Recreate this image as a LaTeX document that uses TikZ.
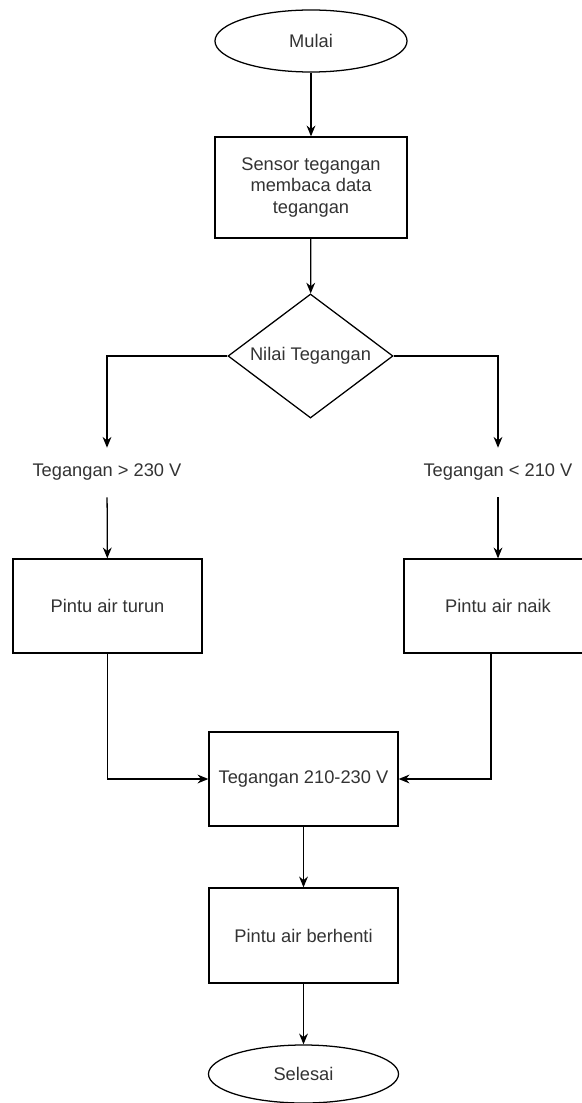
\documentclass[tikz,border=0pt]{standalone}
\usepackage{fontspec}
\setmainfont{Liberation Sans}
\usetikzlibrary{shapes.geometric,arrows.meta}

\begin{document}
\begin{tikzpicture}[x=0.025cm, y=-0.025cm,
    every node/.style={font=\fontsize{13}{15.5}\selectfont, text=black!80},
    flowline/.style={line width=0.9pt, -{Stealth[length=0.27cm, width=0.22cm]}},
    terminal/.style={ellipse, draw, line width=0.9pt, inner sep=0pt},
    process/.style={rectangle, draw, line width=0.9pt, align=center, inner sep=0pt},
    decision/.style={diamond, draw, line width=0.9pt, inner sep=0pt, shape aspect=1.33},
    condition/.style={minimum height=1.225cm, inner sep=0pt}]
    % page frame
    \useasboundingbox (0,0) rectangle (582,1103);

    % Start and reading
    \node[terminal, minimum width=4.8cm, minimum height=1.55cm] (mulai) at (311,41) {Mulai};
    \node[process, minimum width=4.8cm, minimum height=2.525cm] (sensor) at (311,187.5) {Sensor tegangan\\membaca data\\tegangan};

    % Decision
    \node[decision, minimum width=4.125cm, minimum height=3.1cm] (nilai) at (310.5,356) {Nilai Tegangan};

    % Conditions
    \node[condition] (tinggi) at (107,472.5) {Tegangan > 230 V};
    \node[condition] (rendah) at (498,472.5) {Tegangan < 210 V};

    % Actions
    \node[process, minimum width=4.725cm, minimum height=2.35cm] (turun) at (107.5,606) {Pintu air turun};
    \node[process, minimum width=4.7cm, minimum height=2.35cm] (naik) at (498,606) {Pintu air naik};
    \node[process, minimum width=4.725cm, minimum height=2.35cm] (normal) at (303.5,779) {Tegangan 210-230 V};
    \node[process, minimum width=4.725cm, minimum height=2.375cm] (berhenti) at (303.5,935.5) {Pintu air berhenti};

    % End
    \node[terminal, minimum width=4.75cm, minimum height=1.45cm] (selesai) at (303.5,1074) {Selesai};

    % Connectors
    \draw[flowline] (mulai) -- (sensor);
    \draw[flowline] (sensor) -- (nilai);
    \draw[flowline] (nilai.west) -| (tinggi.north);
    \draw[flowline] (nilai.east) -| (rendah.north);
    \draw[flowline] (tinggi) -- (turun);
    \draw[flowline] (rendah) -- (naik);
    \draw[flowline] (turun.south) |- (normal.west);
    \draw[flowline] ([xshift=-0.175cm]naik.south) |- (normal.east);
    \draw[flowline] (normal) -- (berhenti);
    \draw[flowline] (berhenti) -- (selesai);
\end{tikzpicture}
\end{document}
